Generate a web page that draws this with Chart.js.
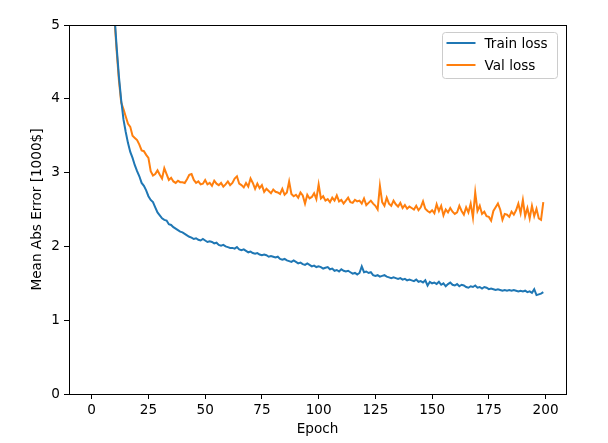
<!DOCTYPE html>
<html lang="en">
	<head>
		<meta charset="UTF-8"/>
		<title>Train / Val loss</title>
		<script src="https://cdn.jsdelivr.net/npm/chart.js@4.4.1/dist/chart.umd.min.js"></script>
		<style>
			body { margin: 0; background: #fff; }
		</style>
	</head>
	<body>

		<canvas id="chart" width="608" height="443"></canvas>
		<script>

			const xTicks = [0, 25, 50, 75, 100, 125, 150, 175, 200];
			const yTicks = [0, 1, 2, 3, 4, 5];
			const seriesNames = ['Train loss', 'Val loss'];

			// mean abs error per epoch (0..199)
			const trainLoss = [
				21.5, 17.8, 14.9, 12.6, 10.8, 9.3, 8.1, 7.1, 6.3, 5.7,
				5.15, 4.7, 4.3, 3.98, 3.72, 3.55, 3.40, 3.28, 3.20, 3.10,
				3.02, 2.95, 2.86, 2.82, 2.76, 2.68, 2.63, 2.60, 2.53, 2.46,
				2.42, 2.38, 2.36, 2.35, 2.30, 2.29, 2.26, 2.24, 2.22, 2.20,
				2.19, 2.17, 2.15, 2.13, 2.12, 2.10, 2.11, 2.09, 2.08, 2.10,
				2.08, 2.06, 2.07, 2.06, 2.04, 2.05, 2.02, 2.01, 2.02, 2.00,
				1.99, 1.98, 1.98, 1.97, 1.99, 1.96, 1.95, 1.96, 1.94, 1.92,
				1.93, 1.91, 1.90, 1.91, 1.89, 1.88, 1.89, 1.88, 1.86, 1.87,
				1.86, 1.85, 1.86, 1.83, 1.82, 1.83, 1.81, 1.80, 1.79, 1.81,
				1.79, 1.77, 1.78, 1.76, 1.75, 1.77, 1.75, 1.73, 1.74, 1.72,
				1.73, 1.72, 1.70, 1.71, 1.72, 1.69, 1.70, 1.67, 1.68, 1.66,
				1.69, 1.67, 1.66, 1.67, 1.65, 1.63, 1.64, 1.62, 1.64, 1.73,
				1.65, 1.66, 1.64, 1.65, 1.61, 1.60, 1.61, 1.59, 1.60, 1.61,
				1.59, 1.58, 1.57, 1.58, 1.57, 1.56, 1.57, 1.55, 1.56, 1.54,
				1.55, 1.54, 1.53, 1.55, 1.52, 1.53, 1.51, 1.54, 1.47, 1.52,
				1.50, 1.51, 1.49, 1.52, 1.48, 1.50, 1.46, 1.49, 1.51, 1.48,
				1.47, 1.49, 1.46, 1.48, 1.47, 1.45, 1.44, 1.46, 1.45, 1.47,
				1.44, 1.45, 1.43, 1.45, 1.44, 1.42, 1.43, 1.42, 1.41, 1.42,
				1.41, 1.40, 1.41, 1.40, 1.41, 1.40, 1.41, 1.40, 1.39, 1.40,
				1.39, 1.40, 1.38, 1.39, 1.37, 1.42, 1.34, 1.35, 1.36, 1.38
			];

			const valLoss = [
				19.5, 16.4, 13.9, 11.9, 10.2, 8.9, 7.8, 6.9, 6.2, 5.6,
				5.1, 4.65, 4.25, 3.95, 3.86, 3.76, 3.66, 3.62, 3.50, 3.47,
				3.44, 3.38, 3.30, 3.29, 3.24, 3.20, 3.02, 2.96, 2.98, 3.03,
				2.97, 2.92, 3.06, 2.98, 2.90, 2.93, 2.88, 2.86, 2.89, 2.87,
				2.87, 2.86, 2.91, 2.97, 2.98, 2.90, 2.86, 2.88, 2.84, 2.85,
				2.90, 2.84, 2.86, 2.82, 2.89, 2.85, 2.83, 2.86, 2.81, 2.84,
				2.88, 2.83, 2.86, 2.92, 2.95, 2.85, 2.83, 2.80, 2.86, 2.81,
				2.92, 2.86, 2.78, 2.85, 2.79, 2.83, 2.74, 2.78, 2.75, 2.72,
				2.77, 2.74, 2.73, 2.71, 2.78, 2.70, 2.73, 2.88, 2.71, 2.68,
				2.70, 2.66, 2.73, 2.69, 2.58, 2.70, 2.65, 2.67, 2.72, 2.64,
				2.84, 2.65, 2.68, 2.62, 2.64, 2.60, 2.66, 2.62, 2.69, 2.61,
				2.63, 2.58, 2.62, 2.66, 2.60, 2.59, 2.63, 2.61, 2.62, 2.58,
				2.65, 2.56, 2.59, 2.62, 2.58, 2.55, 2.50, 2.82, 2.60, 2.55,
				2.66, 2.58, 2.55, 2.62, 2.57, 2.54, 2.59, 2.52, 2.56, 2.51,
				2.54, 2.52, 2.50, 2.55, 2.49, 2.53, 2.61, 2.51, 2.48, 2.46,
				2.49, 2.45, 2.57, 2.48, 2.55, 2.42, 2.50, 2.46, 2.52, 2.47,
				2.44, 2.46, 2.55, 2.48, 2.43, 2.53, 2.46, 2.58, 2.39, 2.73,
				2.48, 2.55, 2.44, 2.47, 2.41, 2.40, 2.35, 2.48, 2.53, 2.58,
				2.50, 2.36, 2.44, 2.43, 2.40, 2.47, 2.43, 2.49, 2.58, 2.45,
				2.63, 2.41, 2.52, 2.38, 2.55, 2.41, 2.51, 2.38, 2.36, 2.60
			];

			const epochs = trainLoss.map((_, i) => i);
			const colors = ['#1f77b4', '#ff7f0e'];
			const font = { family: 'DejaVu Sans', size: 13.6 };

			// top + right spines like matplotlib
			const frame = {
				id: 'frame',
				afterDatasetsDraw(chart) {
					const a = chart.chartArea, ctx = chart.ctx;
					ctx.save();
					ctx.strokeStyle = '#000';
					ctx.lineWidth = 1;
					ctx.strokeRect(Math.round(a.left) + 0.5, Math.round(a.top) + 0.5,
						Math.round(a.right - a.left), Math.round(a.bottom - a.top));
					ctx.restore();
				}
			};

			// boxed legend in the upper right corner
			const boxLegend = {
				id: 'boxLegend',
				afterDraw(chart) {
					const ctx = chart.ctx, a = chart.chartArea;
					const x = a.right - 8.5, y = a.top + 7.5, w = 115, h = 46;
					ctx.save();
					ctx.fillStyle = 'rgba(255,255,255,0.8)';
					ctx.strokeStyle = '#cccccc';
					ctx.lineWidth = 1;
					ctx.beginPath();
					ctx.roundRect(x - w, y, w, h, 3);
					ctx.fill();
					ctx.stroke();
					ctx.font = '13.6px "DejaVu Sans"';
					ctx.textBaseline = 'middle';
					chart.data.datasets.forEach((ds, i) => {
						const ly = y + 10.5 + i * 22;
						ctx.strokeStyle = ds.borderColor;
						ctx.lineWidth = 2;
						ctx.beginPath();
						ctx.moveTo(x - w + 4, ly);
						ctx.lineTo(x - w + 33, ly);
						ctx.stroke();
						ctx.fillStyle = '#000';
						ctx.fillText(ds.label, x - w + 42, ly + 1);
					});
					ctx.restore();
				}
			};

			new Chart(document.getElementById('chart'), {
				type: 'line',
				data: {
					labels: epochs,
					datasets: [trainLoss, valLoss].map((vals, i) => ({
						label: seriesNames[i],
						data: vals.map((v, j) => ({ x: epochs[j], y: v })),
						borderColor: colors[i],
						backgroundColor: colors[i],
						borderWidth: 2,
						pointRadius: 0,
						tension: 0,
						fill: false
					}))
				},
				options: {
					responsive: false,
					animation: false,
					layout: { padding: { top: 25, right: 42, left: 0, bottom: 0 } },
					plugins: { legend: { display: false }, tooltip: { enabled: false } },
					scales: {
						x: {
							type: 'linear',
							min: -10,
							max: 209,
							afterFit(s) { s.height = 49; },
							afterBuildTicks(s) { s.ticks = xTicks.map(v => ({ value: v })); },
							grid: { drawOnChartArea: false, drawTicks: true, tickLength: 5, color: '#000' },
							border: { color: '#000', width: 1 },
							ticks: { color: '#000', font: font, padding: 3, maxRotation: 0 },
							title: { display: true, text: 'Epoch', color: '#000', font: font, padding: { top: 2, bottom: 5 } }
						},
						y: {
							min: 0,
							max: 5,
							afterFit(s) { s.width = 69; },
							afterBuildTicks(s) { s.ticks = yTicks.map(v => ({ value: v })); },
							grid: { drawOnChartArea: false, drawTicks: true, tickLength: 5, color: '#000' },
							border: { color: '#000', width: 1 },
							ticks: { color: '#000', font: font, padding: 4 },
							title: { display: true, text: 'Mean Abs Error [1000$]', color: '#000', font: font, padding: { top: 29, bottom: 0 } }
						}
					}
				},
				plugins: [frame, boxLegend]
			});
		</script>

	</body>
</html>
